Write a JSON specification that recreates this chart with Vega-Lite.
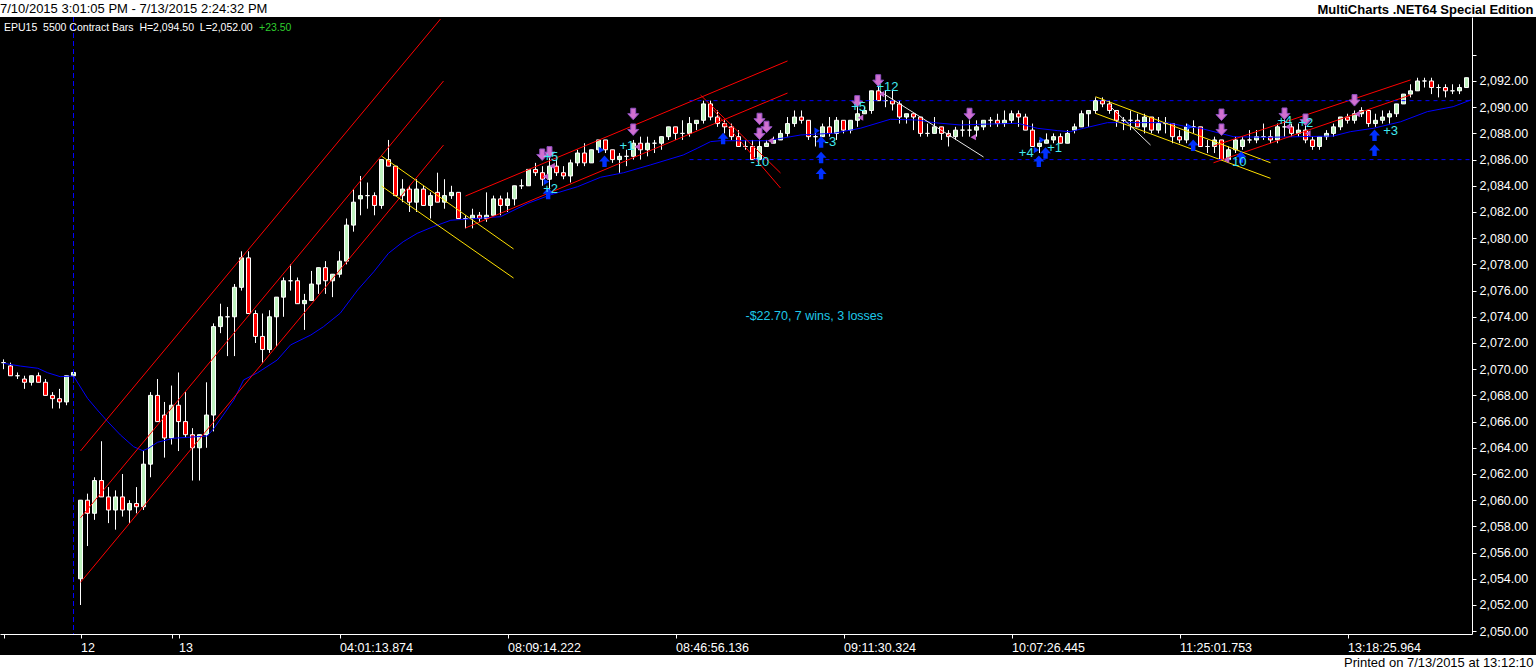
{
  "$schema": "https://vega.github.io/schema/vega-lite/v6.json",
  "description": "EPU15 5500 contract bars with regression channels, moving average and trade markers.",
  "width": 1536,
  "height": 638,
  "autosize": "none",
  "padding": {"left": 0, "right": 0, "top": 17, "bottom": 15},
  "background": "white",
  "config": {"view": {"fill": "black", "stroke": null}, "axis": {"labelOverlap": false}},
  "datasets": {
    "candles": [
      {"i":0,"o":2070.5,"h":2070.75,"l":2070,"c":2070.5},
      {"i":1,"o":2070.25,"h":2070.5,"l":2069.5,"c":2069.5},
      {"i":2,"o":2069.5,"h":2069.75,"l":2069.25,"c":2069.5},
      {"i":3,"o":2069.25,"h":2069.5,"l":2068.5,"c":2069},
      {"i":4,"o":2069,"h":2069.5,"l":2068.75,"c":2069.5},
      {"i":5,"o":2069.5,"h":2069.75,"l":2069,"c":2069},
      {"i":6,"o":2069,"h":2069.25,"l":2068,"c":2068},
      {"i":7,"o":2068,"h":2068.25,"l":2067,"c":2067.75},
      {"i":8,"o":2067.75,"h":2068.5,"l":2067,"c":2067.5},
      {"i":9,"o":2067.5,"h":2069.5,"l":2067.25,"c":2069.5},
      {"i":10,"o":2069.5,"h":2070,"l":2069,"c":2069.75},
      {"i":11,"o":2054,"h":2060,"l":2052,"c":2060},
      {"i":12,"o":2060,"h":2060.5,"l":2056.5,"c":2059},
      {"i":13,"o":2059,"h":2061.75,"l":2058.5,"c":2061.5},
      {"i":14,"o":2061.5,"h":2064.5,"l":2060.25,"c":2060.25},
      {"i":15,"o":2060.25,"h":2061,"l":2058.25,"c":2059.25},
      {"i":16,"o":2059.25,"h":2060.75,"l":2057.75,"c":2060.25},
      {"i":17,"o":2060.25,"h":2062,"l":2058.75,"c":2059.25},
      {"i":18,"o":2059.25,"h":2060,"l":2058.25,"c":2059.75},
      {"i":19,"o":2059.75,"h":2061,"l":2059,"c":2059.5},
      {"i":20,"o":2059.5,"h":2063.75,"l":2059.25,"c":2062.75},
      {"i":21,"o":2062.75,"h":2068.25,"l":2061.75,"c":2068},
      {"i":22,"o":2068,"h":2069.25,"l":2066,"c":2066},
      {"i":23,"o":2066.5,"h":2067.5,"l":2063.25,"c":2064.75},
      {"i":24,"o":2064.75,"h":2068.75,"l":2064.25,"c":2067.25},
      {"i":25,"o":2067.25,"h":2069.75,"l":2063.75,"c":2066},
      {"i":26,"o":2066,"h":2068.25,"l":2064.75,"c":2065},
      {"i":27,"o":2065,"h":2065.5,"l":2061.5,"c":2064},
      {"i":28,"o":2064,"h":2065,"l":2061.5,"c":2065},
      {"i":29,"o":2065,"h":2069,"l":2064,"c":2066.5},
      {"i":30,"o":2066.5,"h":2073.5,"l":2065.25,"c":2073.25},
      {"i":31,"o":2073.25,"h":2075,"l":2072.75,"c":2074},
      {"i":32,"o":2074,"h":2074.75,"l":2071,"c":2074},
      {"i":33,"o":2074,"h":2076.5,"l":2071,"c":2076.25},
      {"i":34,"o":2076.25,"h":2079,"l":2076,"c":2078.5},
      {"i":35,"o":2078.5,"h":2079,"l":2074.25,"c":2074.25},
      {"i":36,"o":2074.25,"h":2074.5,"l":2072,"c":2072.5},
      {"i":37,"o":2072.5,"h":2074.25,"l":2070.5,"c":2071.5},
      {"i":38,"o":2071.5,"h":2074.5,"l":2071.25,"c":2074},
      {"i":39,"o":2074,"h":2075.5,"l":2071.75,"c":2075.5},
      {"i":40,"o":2075.5,"h":2077,"l":2074,"c":2076.75},
      {"i":41,"o":2076.75,"h":2078,"l":2076,"c":2076.75},
      {"i":42,"o":2076.75,"h":2077,"l":2075,"c":2075},
      {"i":43,"o":2075,"h":2075.75,"l":2073,"c":2075.25},
      {"i":44,"o":2075.25,"h":2077.5,"l":2075.25,"c":2076.5},
      {"i":45,"o":2076.5,"h":2077.75,"l":2075.75,"c":2077.75},
      {"i":46,"o":2077.75,"h":2078.25,"l":2075.75,"c":2076.75},
      {"i":47,"o":2076.75,"h":2077.25,"l":2075.5,"c":2077.25},
      {"i":48,"o":2077.25,"h":2079,"l":2077,"c":2078.25},
      {"i":49,"o":2078.25,"h":2081.5,"l":2078,"c":2081},
      {"i":50,"o":2081,"h":2083.75,"l":2080.5,"c":2082.75},
      {"i":51,"o":2083,"h":2084.75,"l":2081.75,"c":2083.25},
      {"i":52,"o":2083.25,"h":2084.25,"l":2082.25,"c":2083.25},
      {"i":53,"o":2083.25,"h":2083.5,"l":2081.75,"c":2082.5},
      {"i":54,"o":2082.5,"h":2086,"l":2082.25,"c":2086},
      {"i":55,"o":2086,"h":2087.5,"l":2085.5,"c":2085.5},
      {"i":56,"o":2085.5,"h":2085.5,"l":2083.25,"c":2083.25},
      {"i":57,"o":2083.25,"h":2084.5,"l":2082.75,"c":2083.75},
      {"i":58,"o":2083.75,"h":2084,"l":2082,"c":2082.75},
      {"i":59,"o":2082.75,"h":2084.5,"l":2082,"c":2083.75},
      {"i":60,"o":2083.75,"h":2084,"l":2082.5,"c":2082.5},
      {"i":61,"o":2082.5,"h":2083.5,"l":2081.5,"c":2083.25},
      {"i":62,"o":2083.5,"h":2085,"l":2082.75,"c":2082.75},
      {"i":63,"o":2082.75,"h":2084.5,"l":2082.25,"c":2083.25},
      {"i":64,"o":2083.25,"h":2084,"l":2083,"c":2083.5},
      {"i":65,"o":2083.5,"h":2083.5,"l":2081.5,"c":2081.5},
      {"i":66,"o":2081.5,"h":2081.75,"l":2080.75,"c":2081.5},
      {"i":67,"o":2081.5,"h":2082.25,"l":2080.75,"c":2081.75},
      {"i":68,"o":2081.75,"h":2082,"l":2081.25,"c":2081.5},
      {"i":69,"o":2081.5,"h":2083.5,"l":2081.25,"c":2081.75},
      {"i":70,"o":2081.75,"h":2083.25,"l":2081.75,"c":2083},
      {"i":71,"o":2083,"h":2083.25,"l":2081.75,"c":2082.5},
      {"i":72,"o":2082.5,"h":2083.5,"l":2082,"c":2083},
      {"i":73,"o":2083,"h":2084,"l":2082.5,"c":2084},
      {"i":74,"o":2084,"h":2084.5,"l":2083.75,"c":2084},
      {"i":75,"o":2084,"h":2085.25,"l":2084,"c":2085.25},
      {"i":76,"o":2085.25,"h":2085.75,"l":2084.75,"c":2085},
      {"i":77,"o":2085,"h":2085.5,"l":2084,"c":2084.5},
      {"i":78,"o":2084.5,"h":2086.5,"l":2083.5,"c":2085.5},
      {"i":79,"o":2085.5,"h":2086,"l":2084.75,"c":2085},
      {"i":80,"o":2085,"h":2085.5,"l":2084.5,"c":2084.75},
      {"i":81,"o":2084.75,"h":2086,"l":2084.25,"c":2085.75},
      {"i":82,"o":2085.75,"h":2086.75,"l":2085.5,"c":2086.5},
      {"i":83,"o":2086.5,"h":2087.25,"l":2085.5,"c":2085.75},
      {"i":84,"o":2085.75,"h":2086.75,"l":2085.75,"c":2086.75},
      {"i":85,"o":2086.75,"h":2087.5,"l":2086.5,"c":2087.5},
      {"i":86,"o":2087.5,"h":2087.5,"l":2086.5,"c":2086.75},
      {"i":87,"o":2086.75,"h":2086.75,"l":2085.75,"c":2086},
      {"i":88,"o":2086,"h":2086.5,"l":2085,"c":2086.25},
      {"i":89,"o":2086.25,"h":2086.75,"l":2085.5,"c":2086.25},
      {"i":90,"o":2086.25,"h":2087.5,"l":2086,"c":2087.25},
      {"i":91,"o":2087.25,"h":2087.75,"l":2086,"c":2086.75},
      {"i":92,"o":2086.75,"h":2087.75,"l":2086.25,"c":2087.25},
      {"i":93,"o":2087.25,"h":2087.5,"l":2086.5,"c":2087.25},
      {"i":94,"o":2087.25,"h":2087.75,"l":2086.75,"c":2087.75},
      {"i":95,"o":2087.75,"h":2088.5,"l":2087.5,"c":2088.5},
      {"i":96,"o":2088.5,"h":2088.5,"l":2087.5,"c":2088},
      {"i":97,"o":2088,"h":2089,"l":2087.5,"c":2088},
      {"i":98,"o":2088,"h":2089.25,"l":2087.75,"c":2088.75},
      {"i":99,"o":2088.75,"h":2089,"l":2088.25,"c":2089},
      {"i":100,"o":2089,"h":2090.5,"l":2088.75,"c":2090.25},
      {"i":101,"o":2090.25,"h":2090.5,"l":2089,"c":2089.25},
      {"i":102,"o":2089.25,"h":2089.75,"l":2088.5,"c":2088.75},
      {"i":103,"o":2088.75,"h":2089,"l":2088,"c":2088.5},
      {"i":104,"o":2088.5,"h":2088.75,"l":2087.5,"c":2087.75},
      {"i":105,"o":2087.75,"h":2088.25,"l":2087,"c":2087},
      {"i":106,"o":2087,"h":2087.5,"l":2086.75,"c":2087},
      {"i":107,"o":2087,"h":2087.5,"l":2086,"c":2086},
      {"i":108,"o":2086,"h":2087.5,"l":2086,"c":2087},
      {"i":109,"o":2087,"h":2087.5,"l":2087,"c":2087.25},
      {"i":110,"o":2087.25,"h":2087.75,"l":2087.25,"c":2087.5},
      {"i":111,"o":2087.5,"h":2088.25,"l":2087.5,"c":2088},
      {"i":112,"o":2088,"h":2089.25,"l":2087.75,"c":2088.75},
      {"i":113,"o":2088.75,"h":2089.75,"l":2088.5,"c":2089.25},
      {"i":114,"o":2089.25,"h":2089.75,"l":2088.75,"c":2089},
      {"i":115,"o":2089,"h":2089,"l":2087.5,"c":2087.75},
      {"i":116,"o":2087.75,"h":2088.25,"l":2087,"c":2087.75},
      {"i":117,"o":2087.75,"h":2088.75,"l":2087.75,"c":2088.5},
      {"i":118,"o":2088.5,"h":2089.25,"l":2087.75,"c":2088},
      {"i":119,"o":2088,"h":2089.25,"l":2087.5,"c":2089},
      {"i":120,"o":2089,"h":2089,"l":2088,"c":2088.25},
      {"i":121,"o":2088.25,"h":2089,"l":2088,"c":2089},
      {"i":122,"o":2089,"h":2090.25,"l":2088.5,"c":2089.5},
      {"i":123,"o":2089.5,"h":2090,"l":2089.5,"c":2089.75},
      {"i":124,"o":2089.75,"h":2091.25,"l":2089.5,"c":2091.25},
      {"i":125,"o":2091.25,"h":2091.75,"l":2090.5,"c":2090.5},
      {"i":126,"o":2090.5,"h":2091.25,"l":2090,"c":2090.5},
      {"i":127,"o":2090.5,"h":2091.25,"l":2089.75,"c":2090.25},
      {"i":128,"o":2090.25,"h":2090.5,"l":2088.75,"c":2089.25},
      {"i":129,"o":2089.25,"h":2089.5,"l":2088.75,"c":2089.5},
      {"i":130,"o":2089.5,"h":2089.5,"l":2088.25,"c":2089.25},
      {"i":131,"o":2089.25,"h":2089.25,"l":2087.75,"c":2088},
      {"i":132,"o":2088,"h":2088.75,"l":2087.75,"c":2088},
      {"i":133,"o":2088,"h":2089.25,"l":2088,"c":2088.5},
      {"i":134,"o":2088.5,"h":2088.5,"l":2087.5,"c":2088},
      {"i":135,"o":2088,"h":2088.25,"l":2087,"c":2087.75},
      {"i":136,"o":2087.75,"h":2088.5,"l":2087.5,"c":2088.25},
      {"i":137,"o":2088.25,"h":2089,"l":2087.75,"c":2088.25},
      {"i":138,"o":2088.25,"h":2089,"l":2087.75,"c":2088.25},
      {"i":139,"o":2088.25,"h":2089,"l":2087.75,"c":2088.5},
      {"i":140,"o":2088.5,"h":2089,"l":2088.25,"c":2089},
      {"i":141,"o":2089,"h":2089.25,"l":2088.5,"c":2089},
      {"i":142,"o":2089,"h":2089.5,"l":2088.5,"c":2088.75},
      {"i":143,"o":2088.75,"h":2089.75,"l":2088.5,"c":2089},
      {"i":144,"o":2089,"h":2089.75,"l":2088.75,"c":2089.5},
      {"i":145,"o":2089.5,"h":2089.75,"l":2088.5,"c":2089.25},
      {"i":146,"o":2089.25,"h":2089.5,"l":2088.25,"c":2088.25},
      {"i":147,"o":2088.25,"h":2088.75,"l":2087,"c":2087},
      {"i":148,"o":2087,"h":2087.5,"l":2086.5,"c":2087.25},
      {"i":149,"o":2087.25,"h":2088,"l":2087.25,"c":2087.5},
      {"i":150,"o":2087.5,"h":2088,"l":2087.25,"c":2087.75},
      {"i":151,"o":2087.75,"h":2088,"l":2087.25,"c":2087.25},
      {"i":152,"o":2087.25,"h":2088.25,"l":2087.25,"c":2088},
      {"i":153,"o":2088.25,"h":2088.75,"l":2088,"c":2088.5},
      {"i":154,"o":2088.5,"h":2089.75,"l":2088.5,"c":2089.5},
      {"i":155,"o":2089.5,"h":2089.75,"l":2088.5,"c":2089.75},
      {"i":156,"o":2089.75,"h":2090.75,"l":2089.5,"c":2090.5},
      {"i":157,"o":2090.5,"h":2090.75,"l":2090,"c":2090.25},
      {"i":158,"o":2090.25,"h":2090.5,"l":2089.5,"c":2089.75},
      {"i":159,"o":2089.75,"h":2089.75,"l":2088.5,"c":2089},
      {"i":160,"o":2089,"h":2089.25,"l":2088.25,"c":2089},
      {"i":161,"o":2089,"h":2089.75,"l":2088.25,"c":2089},
      {"i":162,"o":2089,"h":2089.5,"l":2088.5,"c":2088.5},
      {"i":163,"o":2088.5,"h":2089.5,"l":2088,"c":2089.25},
      {"i":164,"o":2089.25,"h":2089.25,"l":2088,"c":2088.25},
      {"i":165,"o":2088.25,"h":2089.25,"l":2088,"c":2088.75},
      {"i":166,"o":2088.75,"h":2089.25,"l":2088,"c":2088.75},
      {"i":167,"o":2088.75,"h":2088.75,"l":2087.25,"c":2087.75},
      {"i":168,"o":2087.75,"h":2088.25,"l":2087.25,"c":2087.5},
      {"i":169,"o":2087.5,"h":2088.75,"l":2087.25,"c":2088.5},
      {"i":170,"o":2088.5,"h":2089,"l":2088,"c":2088.5},
      {"i":171,"o":2088.5,"h":2088.5,"l":2087,"c":2087},
      {"i":172,"o":2087,"h":2087.5,"l":2086.5,"c":2087},
      {"i":173,"o":2087,"h":2087.75,"l":2086.5,"c":2087.5},
      {"i":174,"o":2087.5,"h":2087.5,"l":2086,"c":2086},
      {"i":175,"o":2086,"h":2087,"l":2086,"c":2086.75},
      {"i":176,"o":2086.75,"h":2087.75,"l":2086.5,"c":2087.5},
      {"i":177,"o":2087,"h":2087.75,"l":2086.75,"c":2087.5},
      {"i":178,"o":2087.5,"h":2088.25,"l":2087.25,"c":2087.5},
      {"i":179,"o":2087.5,"h":2088.25,"l":2087.25,"c":2087.75},
      {"i":180,"o":2087.75,"h":2088.75,"l":2087.5,"c":2087.75},
      {"i":181,"o":2087.75,"h":2088.25,"l":2087.25,"c":2087.5},
      {"i":182,"o":2087.5,"h":2088.75,"l":2087.25,"c":2088.5},
      {"i":183,"o":2088.5,"h":2089.25,"l":2087.75,"c":2088.5},
      {"i":184,"o":2088.5,"h":2088.75,"l":2087.75,"c":2088},
      {"i":185,"o":2088,"h":2088.75,"l":2087.75,"c":2088.25},
      {"i":186,"o":2088.25,"h":2088.75,"l":2087.25,"c":2087.5},
      {"i":187,"o":2087.5,"h":2087.75,"l":2086.75,"c":2087},
      {"i":188,"o":2087,"h":2087.75,"l":2086.75,"c":2087.75},
      {"i":189,"o":2087.75,"h":2088.25,"l":2087.5,"c":2088},
      {"i":190,"o":2088,"h":2088.75,"l":2087.75,"c":2088.5},
      {"i":191,"o":2088.5,"h":2089.25,"l":2088.25,"c":2089.25},
      {"i":192,"o":2089.25,"h":2089.5,"l":2088.75,"c":2089},
      {"i":193,"o":2089,"h":2089.75,"l":2088.75,"c":2089.5},
      {"i":194,"o":2089.5,"h":2090,"l":2089.25,"c":2089.75},
      {"i":195,"o":2089.75,"h":2089.75,"l":2088.5,"c":2088.75},
      {"i":196,"o":2088.75,"h":2089.5,"l":2088.5,"c":2089},
      {"i":197,"o":2089,"h":2089.75,"l":2088.75,"c":2089.25},
      {"i":198,"o":2089.25,"h":2089.75,"l":2088.75,"c":2089.5},
      {"i":199,"o":2089.5,"h":2090.25,"l":2089.25,"c":2090.25},
      {"i":200,"o":2090.25,"h":2091,"l":2090.25,"c":2091},
      {"i":201,"o":2091,"h":2091.75,"l":2090.75,"c":2091.25},
      {"i":202,"o":2091.25,"h":2092.25,"l":2091.25,"c":2092},
      {"i":203,"o":2092,"h":2092.25,"l":2091.5,"c":2092},
      {"i":204,"o":2092,"h":2092.25,"l":2091,"c":2091.5},
      {"i":205,"o":2091.5,"h":2091.75,"l":2090.75,"c":2091.5},
      {"i":206,"o":2091.5,"h":2091.75,"l":2090.75,"c":2091.25},
      {"i":207,"o":2091.25,"h":2091.75,"l":2091,"c":2091.25},
      {"i":208,"o":2091.25,"h":2091.75,"l":2091,"c":2091.5},
      {"i":209,"o":2091.5,"h":2092.25,"l":2091.5,"c":2092.25}
    ],
    "ma": [
      {"i":0,"p":2070.45},{"i":2.4,"p":2070.24},{"i":4.9,"p":2070.07},{"i":6.3,"p":2069.73},
      {"i":8.1,"p":2069.43},{"i":10,"p":2069.48},{"i":12,"p":2067.78},{"i":13.4,"p":2066.89},
      {"i":14.9,"p":2065.99},{"i":16.7,"p":2064.98},{"i":18.6,"p":2064.08},{"i":19.9,"p":2063.78},
      {"i":20.7,"p":2063.96},{"i":22,"p":2064.42},{"i":24.3,"p":2064.73},{"i":26.3,"p":2064.8},
      {"i":29.1,"p":2064.9},{"i":30,"p":2065.44},{"i":32.9,"p":2067.65},{"i":34.3,"p":2069.18},
      {"i":36.3,"p":2069.73},{"i":39.1,"p":2070.7},{"i":41,"p":2071.85},{"i":43.9,"p":2072.61},
      {"i":45.7,"p":2073.24},{"i":48.1,"p":2074.27},{"i":50.6,"p":2076.05},{"i":52.9,"p":2077.44},
      {"i":55,"p":2078.85},{"i":57.1,"p":2079.73},{"i":59.1,"p":2080.37},{"i":61.4,"p":2080.88},
      {"i":63.9,"p":2081.37},{"i":71,"p":2081.64},{"i":74.9,"p":2082.66},{"i":78.1,"p":2083.3},
      {"i":82,"p":2083.93},{"i":85.3,"p":2084.65},{"i":88.6,"p":2085.0},{"i":92.4,"p":2085.59},
      {"i":97.1,"p":2086.35},{"i":99.1,"p":2086.86},{"i":101,"p":2087.37},{"i":102.4,"p":2087.44},
      {"i":109.1,"p":2087.44},{"i":113.9,"p":2087.88},{"i":118.6,"p":2088.01},{"i":122.4,"p":2088.39},
      {"i":126.7,"p":2089.08},{"i":130.6,"p":2089.02},{"i":132.9,"p":2088.82},{"i":136.7,"p":2088.64},
      {"i":139.1,"p":2088.69},{"i":144.9,"p":2088.77},{"i":147.7,"p":2088.39},{"i":150.6,"p":2088.21},
      {"i":152.4,"p":2088.13},{"i":154.3,"p":2088.39},{"i":157.7,"p":2088.82},{"i":166.3,"p":2088.82},
      {"i":168.6,"p":2088.56},{"i":171,"p":2088.39},{"i":175.7,"p":2087.75},{"i":180.6,"p":2087.7},
      {"i":190,"p":2087.8},{"i":192.4,"p":2088.13},{"i":195.7,"p":2088.39},{"i":199.6,"p":2088.89},
      {"i":203.4,"p":2089.66},{"i":207.1,"p":2090.04},{"i":209.6,"p":2090.55}
    ],
    "redlines": [
      {"id":"a1","i":11,"p":2063.76},{"id":"a1","i":62.43,"p":2096.73},
      {"id":"a2","i":11,"p":2058.66},{"id":"a2","i":62.86,"p":2092.0},
      {"id":"a3","i":11,"p":2053.73},{"id":"a3","i":62.86,"p":2087.11},
      {"id":"b1","i":66,"p":2083.22},{"id":"b1","i":112,"p":2093.53},
      {"id":"b2","i":66,"p":2080.78},{"id":"b2","i":112,"p":2091.08},
      {"id":"c1","i":99.57,"p":2090.93},{"id":"c1","i":111,"p":2084.98},
      {"id":"c2","i":101.43,"p":2089.79},{"id":"c2","i":111,"p":2083.83},
      {"id":"d1","i":172.86,"p":2087.04},{"id":"d1","i":201,"p":2092.08},
      {"id":"d2","i":172.86,"p":2085.76},{"id":"d2","i":201,"p":2090.93}
    ],
    "yellowlines": [
      {"id":"y1","i":54,"p":2086.27},{"id":"y1","i":72.86,"p":2079.18},
      {"id":"y2","i":54,"p":2083.98},{"id":"y2","i":72.86,"p":2076.96},
      {"id":"y3","i":156,"p":2090.8},{"id":"y3","i":181,"p":2085.76},
      {"id":"y4","i":156,"p":2089.53},{"id":"y4","i":181,"p":2084.57}
    ],
    "whitelines": [
      {"id":"w1","i":125.29,"p":2091.18},{"id":"w1","i":140,"p":2086.2},
      {"id":"w2","i":158.14,"p":2090.04},{"id":"w2","i":163.86,"p":2087.11}
    ],
    "hdash": [
      {"i0":98,"i1":209.6,"p":2090.5},
      {"i0":98,"i1":209.6,"p":2086.0}
    ],
    "mdown": [
      {"i":76.96,"p":2086.35},{"i":78,"p":2086.53},{"i":89.96,"p":2089.46},{"i":89.96,"p":2088.26},
      {"i":108,"p":2089.08},{"i":109,"p":2088.47},{"i":108,"p":2087.95},{"i":121.96,"p":2090.42},
      {"i":124.96,"p":2092.02},{"i":138,"p":2089.46},{"i":174,"p":2089.4},{"i":174,"p":2088.26},
      {"i":183,"p":2089.48},{"i":186,"p":2089.02},{"i":193,"p":2090.5}
    ],
    "bup": [
      {"i":77.8,"p":2083.43},{"i":85.86,"p":2085.89},{"i":102.8,"p":2087.63},{"i":116.8,"p":2087.37},
      {"i":116.8,"p":2086.18},{"i":116.8,"p":2084.95},{"i":147.9,"p":2085.89},{"i":148.86,"p":2086.53},
      {"i":169.96,"p":2087.11},{"i":176.8,"p":2086.22},{"i":195.86,"p":2087.88},{"i":195.86,"p":2086.73}
    ],
    "mleft": [
      {"i":77.43,"p":2084.7},{"i":78.38,"p":2085.51},{"i":90.53,"p":2086.98},{"i":109.57,"p":2087.44},
      {"i":122.43,"p":2089.2},{"i":125.43,"p":2091.0},{"i":138.53,"p":2087.71},{"i":174.71,"p":2085.97},
      {"i":183.47,"p":2088.51},{"i":186.33,"p":2088.0},{"i":193.38,"p":2089.48}
    ],
    "bright": [
      {"i":77.57,"p":2084.31},{"i":85.43,"p":2086.73},{"i":116.24,"p":2088.2},{"i":147.57,"p":2086.73},
      {"i":148.38,"p":2087.5},{"i":169.47,"p":2088.51}
    ],
    "labels": [
      {"i":77.14,"p":2086.2,"t":"+5"},{"i":77.1,"p":2083.78,"t":"+2"},{"i":88,"p":2087.0,"t":"+1"},
      {"i":106.7,"p":2085.78,"t":"-10"},{"i":117.3,"p":2087.34,"t":"-3"},{"i":121.1,"p":2090.04,"t":"+5"},
      {"i":124.7,"p":2091.56,"t":"+12"},{"i":145.05,"p":2086.54,"t":"+4"},{"i":149.1,"p":2086.85,"t":"+1"},
      {"i":175.5,"p":2085.82,"t":"10"},{"i":182,"p":2088.98,"t":"+4"},{"i":185,"p":2088.8,"t":"+2"},
      {"i":197.1,"p":2088.22,"t":"+3"}
    ]
  },
  "layer": [
    {
      "data": {"name": "candles"},
      "mark": {"type": "rule", "color": "white", "strokeWidth": 1},
      "encoding": {
        "x": {
          "field": "i", "type": "quantitative",
          "scale": {"domain": [-0.5, 209.7857], "range": [0, 1472], "padding": 0, "nice": false, "zero": false},
          "axis": {
            "orient": "bottom", "offset": -21, "grid": false, "tickCount": 100,
            "values": [0, 11, 24, 25, 48, 72, 96, 120, 144, 168, 192],
            "labelExpr": "datum.value==11?'12':datum.value==25?'13':datum.value==48?'04:01:13.874':datum.value==72?'08:09:14.222':datum.value==96?'08:46:56.136':datum.value==120?'09:11:30.324':datum.value==144?'10:07:26.445':datum.value==168?'11:25:01.753':datum.value==192?'13:18:25.964':''",
            "domainColor": "white", "tickColor": "white", "tickSize": 4,
            "labelColor": "white", "labelFont": "Liberation Sans", "labelFontSize": 12.5,
            "labelAlign": "left", "labelBaseline": "top", "labelPadding": 3, "labelDx": 2,
            "labelOverlap": false, "labelFlush": false,
            "title": "Printed on 7/13/2015 at 13:12:10",
            "titleColor": "black", "titleFont": "Liberation Sans", "titleFontSize": 13, "titleFontWeight": "normal",
            "titleX": 1533, "titleY": 32, "titleAlign": "right", "titleBaseline": "alphabetic"
          }
        },
        "y": {
          "field": "l", "type": "quantitative",
          "scale": {"domain": [2049.786, 2096.885], "range": [617, 0], "nice": false, "zero": false},
          "axis": {
            "orient": "right", "offset": -64, "grid": false, "tickCount": 100,
            "values": [2050,2052,2054,2056,2058,2060,2062,2064,2066,2068,2070,2072,2074,2076,2078,2080,2082,2084,2086,2088,2090,2092,2094],
            "format": ",.2f",
            "labelExpr": "datum.value > 2093 ? '' : datum.label",
            "domainColor": "white", "tickColor": "white", "tickSize": 4,
            "labelColor": "white", "labelFont": "Liberation Sans", "labelFontSize": 12.5,
            "labelPadding": 3, "labelOverlap": false, "labelFlush": false, "labelBound": false,
            "title": "MultiCharts .NET64 Special Edition",
            "titleAngle": 0, "titleX": 61, "titleY": -4, "titleAlign": "right", "titleBaseline": "alphabetic",
            "titleColor": "black", "titleFont": "Liberation Sans", "titleFontSize": 13, "titleFontWeight": "bold"
          }
        },
        "y2": {"field": "h"}
      }
    },
    {
      "data": {"name": "candles"},
      "mark": {"type": "bar", "orient": "vertical", "size": 4, "stroke": "white", "strokeWidth": 1},
      "encoding": {
        "x": {"field": "i", "type": "quantitative"},
        "y": {"field": "o", "type": "quantitative"},
        "y2": {"field": "c"},
        "fill": {"condition": {"test": "datum.c >= datum.o", "value": "#bff2bf"}, "value": "#ff0000"}
      }
    },
    {
      "data": {"values": [{}]},
      "mark": {"type": "rule", "color": "#0000ff", "strokeDash": [5, 3], "strokeWidth": 1},
      "encoding": {"x": {"datum": 10}, "y": {"datum": 2096.885}, "y2": {"datum": 2049.786}}
    },
    {
      "data": {"name": "ma"},
      "mark": {"type": "line", "color": "#0000ff", "strokeWidth": 1},
      "encoding": {"x": {"field": "i", "type": "quantitative"}, "y": {"field": "p", "type": "quantitative"}}
    },
    {
      "data": {"name": "redlines"},
      "mark": {"type": "line", "color": "#ff0000", "strokeWidth": 1},
      "encoding": {"x": {"field": "i", "type": "quantitative"}, "y": {"field": "p", "type": "quantitative"}, "detail": {"field": "id"}}
    },
    {
      "data": {"name": "yellowlines"},
      "mark": {"type": "line", "color": "#ffe000", "strokeWidth": 1},
      "encoding": {"x": {"field": "i", "type": "quantitative"}, "y": {"field": "p", "type": "quantitative"}, "detail": {"field": "id"}}
    },
    {
      "data": {"name": "whitelines"},
      "mark": {"type": "line", "color": "#e8e8e8", "strokeWidth": 1},
      "encoding": {"x": {"field": "i", "type": "quantitative"}, "y": {"field": "p", "type": "quantitative"}, "detail": {"field": "id"}}
    },
    {
      "data": {"name": "hdash"},
      "mark": {"type": "rule", "color": "#0000ff", "strokeDash": [4, 4], "strokeWidth": 1},
      "encoding": {"x": {"field": "i0", "type": "quantitative"}, "x2": {"field": "i1"}, "y": {"field": "p", "type": "quantitative"}}
    },
    {
      "data": {"name": "mdown"},
      "mark": {"type": "point", "filled": true, "size": 120, "fill": "#d070d0", "stroke": "#9050c0", "strokeWidth": 1, "opacity": 1,
               "shape": "M-0.45,-1.1L0.45,-1.1L0.45,-0.1L1,-0.1L0,1L-1,-0.1L-0.45,-0.1Z"},
      "encoding": {"x": {"field": "i", "type": "quantitative"}, "y": {"field": "p", "type": "quantitative"}}
    },
    {
      "data": {"name": "bup"},
      "mark": {"type": "point", "filled": true, "size": 120, "fill": "#0030ff", "opacity": 1,
               "shape": "M-0.4,1.1L0.4,1.1L0.4,0.1L1,0.1L0,-1L-1,0.1L-0.4,0.1Z"},
      "encoding": {"x": {"field": "i", "type": "quantitative"}, "y": {"field": "p", "type": "quantitative"}}
    },
    {
      "data": {"name": "mleft"},
      "mark": {"type": "point", "filled": true, "size": 40, "fill": "#c060c8", "opacity": 1, "shape": "triangle-left"},
      "encoding": {"x": {"field": "i", "type": "quantitative"}, "y": {"field": "p", "type": "quantitative"}}
    },
    {
      "data": {"name": "bright"},
      "mark": {"type": "point", "filled": true, "size": 40, "fill": "#0030ff", "opacity": 1, "shape": "triangle-right"},
      "encoding": {"x": {"field": "i", "type": "quantitative"}, "y": {"field": "p", "type": "quantitative"}}
    },
    {
      "data": {"name": "labels"},
      "mark": {"type": "text", "align": "left", "baseline": "middle", "font": "Liberation Sans", "fontSize": 13, "color": "#40e8f0"},
      "encoding": {"x": {"field": "i", "type": "quantitative"}, "y": {"field": "p", "type": "quantitative"}, "text": {"field": "t"}}
    },
    {
      "data": {"values": [{}]},
      "mark": {"type": "text", "align": "left", "baseline": "alphabetic", "font": "Liberation Sans", "fontSize": 12.5, "color": "#1ec8e8",
               "text": "-$22.70, 7 wins, 3 losses"},
      "encoding": {"x": {"datum": 106}, "y": {"datum": 2073.76}}
    },
    {
      "data": {"values": [{}]},
      "mark": {"type": "text", "align": "left", "baseline": "alphabetic", "font": "Liberation Sans", "fontSize": 13, "color": "black",
               "text": "7/10/2015 3:01:05 PM - 7/13/2015 2:24:32 PM"},
      "encoding": {"x": {"datum": -0.5}, "y": {"datum": 2097.19}}
    },
    {
      "data": {"values": [{}]},
      "mark": {"type": "text", "align": "left", "baseline": "alphabetic", "font": "Liberation Sans", "fontSize": 10.5, "color": "white",
               "text": "EPU15\u00a0\u00a05500 Contract Bars\u00a0\u00a0H=2,094.50\u00a0\u00a0L=2,052.00"},
      "encoding": {"x": {"datum": 0.07}, "y": {"datum": 2095.85}}
    },
    {
      "data": {"values": [{}]},
      "mark": {"type": "text", "align": "left", "baseline": "alphabetic", "font": "Liberation Sans", "fontSize": 10.5, "color": "#2ecc2e",
               "text": "+23.50"},
      "encoding": {"x": {"datum": 36.5}, "y": {"datum": 2095.85}}
    }
  ]
}
